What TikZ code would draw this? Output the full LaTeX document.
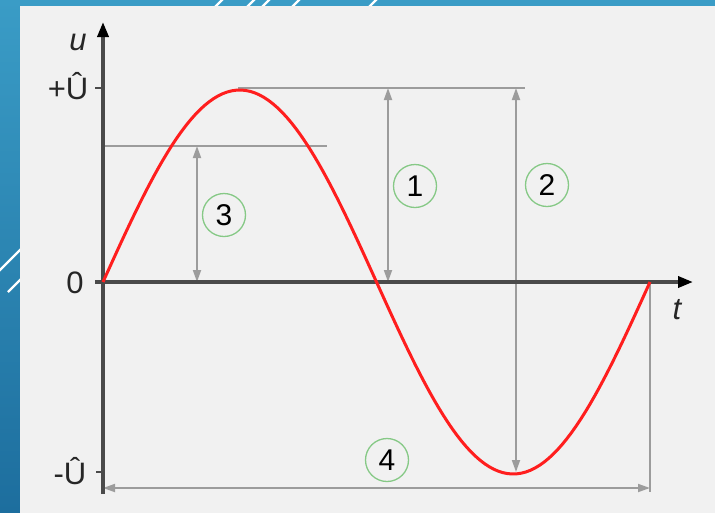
\documentclass[tikz,border=0pt]{standalone}
\usepackage{fontspec}
\setmainfont{Liberation Sans}
\usetikzlibrary{arrows.meta}
\definecolor{frameblue}{HTML}{3A9CC6}
\definecolor{framedark}{HTML}{1D6E9E}
\definecolor{panelgray}{HTML}{F1F1F1}
\definecolor{axisgray}{HTML}{4A4A4A}
\definecolor{dimgray}{HTML}{9C9C9C}
\definecolor{markgreen}{HTML}{86C986}
\definecolor{curvered}{HTML}{FF1E1E}
\tikzset{
  axis/.style    ={line width=3.5pt, axisgray, -{Triangle[length=15pt,width=11pt,black]}},
  dimline/.style ={line width=1.8pt, dimgray},                                        % helper levels
  dimarr/.style  ={line width=1.8pt, dimgray, {Triangle[length=12pt,width=8pt]}-{Triangle[length=12pt,width=8pt]}},
  tickln/.style  ={line width=2.5pt, axisgray},
  wave/.style    ={line width=3pt, curvered},
  numlbl/.style  ={draw=markgreen, circle, line width=1.3pt, minimum size=43pt, inner sep=0pt, font=\fontsize{30}{32}\selectfont},
  axlbl/.style   ={font=\fontsize{31}{33}\selectfont, text=black!85},
  stripe/.style  ={white, line width=2.2pt},
}

\begin{document}
\begin{tikzpicture}[x=1pt, y=-1pt]
  \useasboundingbox (0,0) rectangle (715,512);
  % FRAME: blue slide border with white streaks, grey panel on top
  \fill[top color=frameblue, bottom color=framedark] (0,0) rectangle (715,512);
  \draw[stripe] (214,8) -- (224,-2);
  \draw[stripe] (246,8) -- (256,-2);
  \draw[stripe] (261,8) -- (271,-2);
  \draw[stripe] (291,8) -- (301,-2);
  \draw[stripe] (368,8) -- (378,-2);
  \draw[stripe] (-2,272) -- (22,248);
  \draw[stripe] (8,292) -- (22,278);
  \fill[panelgray] (20,6) rectangle (716,513);

  % POINTS of the wave and its dimensions
  \coordinate (O)    at (103,282);
  \coordinate (pk)   at (238,88);
  \coordinate (tr)   at (516,472);
  \coordinate (end)  at (650,282);
  \coordinate (pkr)  at (525,88);
  \coordinate (rmsl) at (103,146);
  \coordinate (rmsr) at (327,146);
  \coordinate (a3t)  at (197,146);
  \coordinate (a3b)  at (197,282);
  \coordinate (a1t)  at (388,88);
  \coordinate (a1b)  at (388,282);
  \coordinate (a2t)  at (516,88);
  \coordinate (a2b)  at (516,472);
  \coordinate (a4l)  at (103,488);
  \coordinate (a4r)  at (650,488);
  \coordinate (endb) at (650,492);
  \coordinate (yb)   at (103,494);
  \coordinate (yt)   at (103,22);
  \coordinate (xl)   at (95,282);
  \coordinate (xr)   at (693,282);

  % helper lines
  \draw[dimline] (pk) -- (pkr);
  \draw[dimline] (rmsl) -- (rmsr);
  \draw[dimline] (end) -- (endb);

  % dimension arrows
  \draw[dimarr] (a3t) -- (a3b);
  \draw[dimarr] (a1t) -- (a1b);
  \draw[dimarr] (a2t) -- (a2b);
  \draw[dimarr] (a4l) -- (a4r);

  % axes
  \draw[axis] (yb) -- (yt);
  \draw[axis] (xl) -- (xr);
  \coordinate (tkp) at (95,88);
  \coordinate (tkm) at (96,472);
  \draw[tickln] (tkp) -- (103,88);
  \draw[tickln] (tkm) -- (103,472);

  % the sine
  \draw[wave] plot[domain=0:360, samples=120] ({103+\x*1.51944},{282-192*sin(\x)});

  % axis labels
  \node[axlbl] (lu)  at (78,42)   {\itshape u};
  \node[axlbl] (lt)  at (677,310) {\itshape t};
  \node[axlbl] (lpu) at (68,86)   {+Û};
  \node[axlbl] (l0)  at (75,283)  {0};
  \node[axlbl] (lmu) at (70,471)  {-Û};

  % numbered marks
  \node[numlbl] (n1) at (415,186) {1};
  \node[numlbl] (n2) at (547,185) {2};
  \node[numlbl] (n3) at (224,215) {3};
  \node[numlbl] (n4) at (387,460) {4};
\end{tikzpicture}
\end{document}
